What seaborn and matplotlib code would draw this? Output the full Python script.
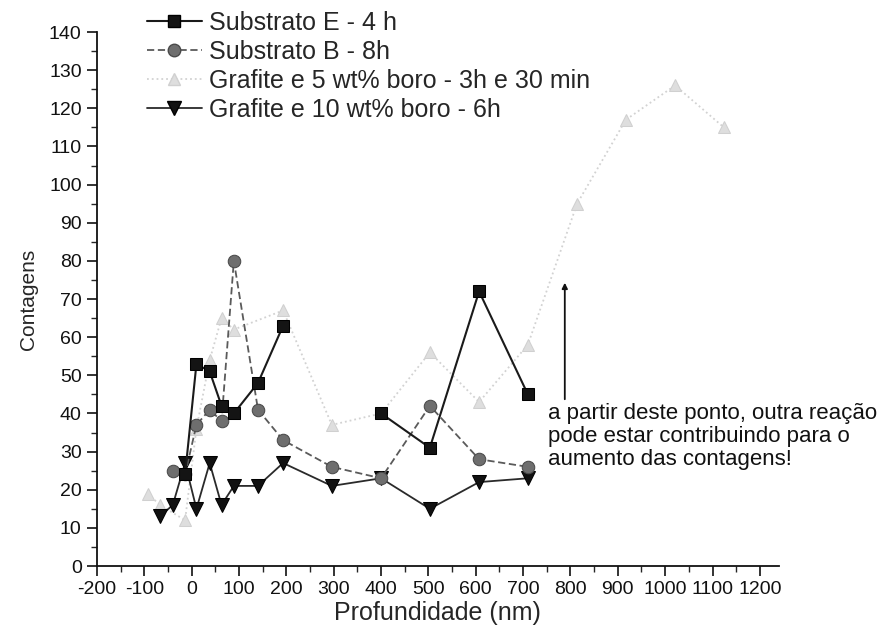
import pandas as pd
import numpy as np
import matplotlib
matplotlib.use("Agg")
import matplotlib.pyplot as plt
from matplotlib.lines import Line2D
import seaborn as sns

# depth profile data
depth_e = [-14, 10, 38, 63, 89, 140, 193, 400, 503, 607, 710]
count_e = [24, 53, 51, 42, 40, 48, 63, 40, 31, 72, 45]
seg_e = [0, 0, 0, 0, 0, 0, 0, 1, 1, 1, 1]   # no line drawn between 193 and 400

depth_b = [-40, -14, 10, 38, 63, 89, 140, 193, 296, 400, 503, 607, 710]
count_b = [25, 24, 37, 41, 38, 80, 41, 33, 26, 23, 42, 28, 26]

depth_g5 = [-93, -67, -14, 10, 38, 63, 89, 193, 296, 400, 503, 607, 710, 814, 917, 1021, 1124]
count_g5 = [19, 16, 12, 36, 54, 65, 62, 67, 37, 40, 56, 43, 58, 95, 117, 126, 115]

depth_g10 = [-67, -40, -14, 10, 38, 63, 89, 140, 193, 296, 400, 503, 607, 710]
count_g10 = [13, 16, 27, 15, 27, 16, 21, 21, 27, 21, 23, 15, 22, 23]

labels = ["Substrato E - 4 h", "Substrato B - 8h",
          "Grafite e 5 wt% boro - 3h e 30 min", "Grafite e 10 wt% boro - 6h"]

note = "a partir deste ponto, outra reação\npode estar contribuindo para o\naumento das contagens!"

sns.set_style("ticks")
plt.rcParams['font.family'] = ['Liberation Sans', 'DejaVu Sans']
plt.rcParams['axes.unicode_minus'] = False

fig = plt.figure(figsize=(8.86, 6.41), dpi=100)
ax = fig.add_axes([0.1095, 0.117, 0.7695, 0.833])

# styles per series
st_e = dict(color='#1a1a1a', marker='s', markersize=8, markerfacecolor='#141414',
            markeredgecolor='#000000', linewidth=1.5, linestyle='-')
st_b = dict(color='#5a5a5a', marker='o', markersize=9, markerfacecolor='#6e6e6e',
            markeredgecolor='#4a4a4a', linewidth=1.3, linestyle=(0, (4, 2)))
st_g5 = dict(color='#d2d2d2', marker='^', markersize=9, markerfacecolor='#dedede',
             markeredgecolor='#d0d0d0', linewidth=1.3, linestyle=':')
st_g10 = dict(color='#2a2a2a', marker='v', markersize=10, markerfacecolor='#111111',
              markeredgecolor='#000000', linewidth=1.3, linestyle='-')

df_g5 = pd.DataFrame({'x': depth_g5, 'y': count_g5})
sns.lineplot(data=df_g5, x='x', y='y', sort=False, estimator=None, ax=ax, legend=False, **st_g5)

df_g10 = pd.DataFrame({'x': depth_g10, 'y': count_g10})
sns.lineplot(data=df_g10, x='x', y='y', sort=False, estimator=None, ax=ax, legend=False, **st_g10)

df_b = pd.DataFrame({'x': depth_b, 'y': count_b})
sns.lineplot(data=df_b, x='x', y='y', sort=False, estimator=None, ax=ax, legend=False, **st_b)

df_e = pd.DataFrame({'x': depth_e, 'y': count_e, 'seg': seg_e})
sns.lineplot(data=df_e, x='x', y='y', units='seg', sort=False, estimator=None,
             ax=ax, legend=False, **st_e)

ax.set_xlim(-200, 1240)
ax.set_ylim(0, 140)
ax.set_xticks(np.arange(-200, 1201, 100))
ax.set_xticks(np.arange(-150, 1201, 100), minor=True)
ax.set_yticks(np.arange(0, 141, 10))
ax.set_yticks(np.arange(5, 140, 10), minor=True)
ax.tick_params(which='major', direction='out', length=7, width=1.2, labelsize=14,
               colors='#111111', pad=4)
ax.tick_params(which='minor', direction='out', length=4, width=1.0)
sns.despine(ax=ax)
for s in ['left', 'bottom']:
    ax.spines[s].set_linewidth(1.3)
    ax.spines[s].set_color('#111111')

ax.set_xlabel("Profundidade (nm)", fontsize=18, labelpad=2)
ax.set_ylabel("Contagens", fontsize=15, labelpad=8)

# arrow + note
ax.annotate("", xy=(788, 75), xytext=(788, 43),
            arrowprops=dict(arrowstyle='-|>', color='#111111', lw=1.3, mutation_scale=8))
ax.text(752, 42.8, note, fontsize=16, va='top', ha='left', linespacing=1.13, color='#111111')

handles = [Line2D([], [], **st_e), Line2D([], [], **st_b),
           Line2D([], [], **st_g5), Line2D([], [], **st_g10)]
ax.legend(handles, labels, loc='upper left', bbox_to_anchor=(0.073, 1.04), frameon=False,
          fontsize=18, handlelength=2.2, handletextpad=0.3, labelspacing=0.2,
          borderaxespad=0, borderpad=0)

fig.savefig("out.png", dpi=100)
